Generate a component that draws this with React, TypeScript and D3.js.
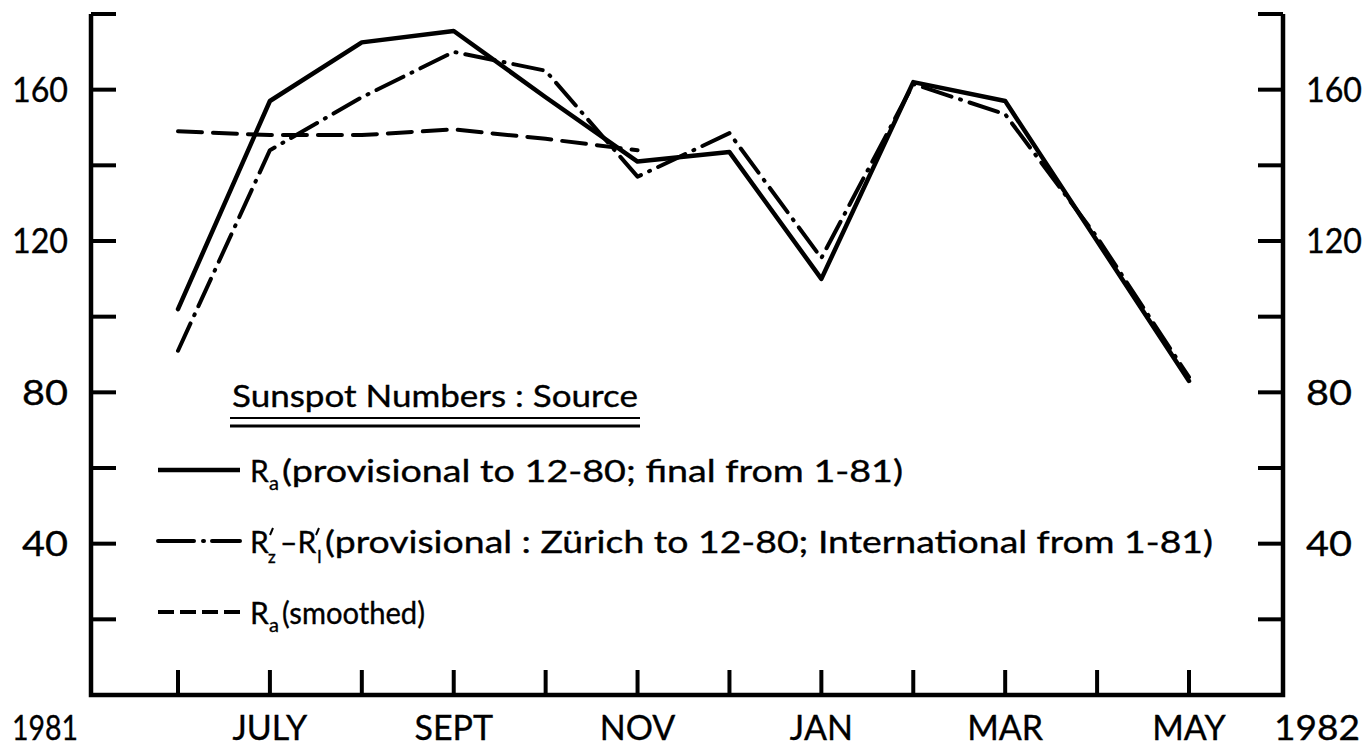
import React from "react";
import * as d3 from "d3";

const monthIndex = [1, 2, 3, 4, 5, 6, 7, 8, 9, 10, 11, 12];
const monthNames = ["JUNE", "JULY", "AUG", "SEPT", "OCT", "NOV", "DEC", "JAN", "FEB", "MAR", "APR", "MAY"];
const labeledMonths = ["JULY", "SEPT", "NOV", "JAN", "MAR", "MAY"];
const raFinal = [102, 157, 172.5, 175.5, 158, 141, 143.5, 110, 162, 157, 120, 83];
const rzRi = [91, 144, 158, 170, 165, 137, 148.5, 115.5, 161.5, 153.5, 121, 84];
const raSmoothed = [149, 148, 148, 149.5, 147, 144];
const yMajorTicks = [20, 40, 60, 80, 100, 120, 140, 160, 180];
const yLabels = [40, 80, 120, 160];
const yearLabels = ["1981", "1982"];

const W = 1367;
const H = 748;
const FONT = "Lato, 'Open Sans', sans-serif";

export default function App() {
  const left = 91;
  const right = 1283;
  const bottom = 695;
  const top = 14;
  const x = d3.scaleLinear().domain([1, 12]).range([178, 1189]);
  const y = d3.scaleLinear().domain([0, 180]).range([bottom, top]);
  const line = d3
    .line<[number, number]>()
    .x((d) => x(d[0]))
    .y((d) => y(d[1]));

  const raPts = monthIndex.map((m, i) => [m, raFinal[i]] as [number, number]);
  const rzPts = monthIndex.map((m, i) => [m, rzRi[i]] as [number, number]);
  const smPts = raSmoothed.map((v, i) => [monthIndex[i], v] as [number, number]);

  const sw = 4;
  const textStyle = { fontFamily: FONT, fill: "#000", stroke: "#000", strokeWidth: 0.35 } as const;
  const yLabLen = (t: number) => (t >= 100 ? 56 : 46);

  return (
    <svg width={W} height={H} style={{ position: "absolute", left: 0, top: 0, background: "#fff" }}>
      <rect width={W} height={H} fill="#fff" />
      {/* frame */}
      <path
        d={`M${left},${top} V${bottom} H${right} V${top}`}
        fill="none"
        stroke="#000"
        strokeWidth={4.5}
        strokeLinejoin="miter"
      />
      {/* y ticks */}
      {yMajorTicks.map((t) => (
        <g key={"yt" + t}>
          <line x1={left} x2={left + 25} y1={y(t)} y2={y(t)} stroke="#000" strokeWidth={4} />
          <line x1={right} x2={right - 25} y1={y(t)} y2={y(t)} stroke="#000" strokeWidth={4} />
        </g>
      ))}
      {/* x ticks */}
      {monthIndex.map((m) => (
        <line key={"xt" + m} x1={x(m)} x2={x(m)} y1={bottom} y2={bottom - 25} stroke="#000" strokeWidth={4} />
      ))}
      {/* y labels */}
      {yLabels.map((t) => (
        <g key={"yl" + t}>
          <text x={68 - yLabLen(t)} y={y(t)} dy="0.36em" fontSize={34} textLength={yLabLen(t)} lengthAdjust="spacingAndGlyphs" {...textStyle}>
            {t}
          </text>
          <text x={1306} y={y(t)} dy="0.36em" fontSize={34} textLength={yLabLen(t)} lengthAdjust="spacingAndGlyphs" {...textStyle}>
            {t}
          </text>
        </g>
      ))}
      {/* x labels */}
      {monthIndex.map((m, i) =>
        labeledMonths.includes(monthNames[i]) ? (
          <text key={"xl" + m} x={x(m)} y={740} textAnchor="middle" fontSize={34} {...textStyle}>
            {monthNames[i]}
          </text>
        ) : null
      )}
      <text x={12} y={740} fontSize={34} textLength={66} lengthAdjust="spacingAndGlyphs" {...textStyle}>{yearLabels[0]}</text>
      <text x={1274} y={740} fontSize={34} textLength={86} lengthAdjust="spacingAndGlyphs" {...textStyle}>{yearLabels[1]}</text>

      {/* data */}
      <path d={line(smPts) || ""} fill="none" stroke="#000" strokeWidth={sw} strokeDasharray="24,11" strokeLinecap="round" />
      <path d={line(rzPts) || ""} fill="none" stroke="#000" strokeWidth={sw} strokeDasharray="30,9,1,9" strokeLinecap="round" strokeLinejoin="round" />
      <path d={line(raPts) || ""} fill="none" stroke="#000" strokeWidth={sw + 0.5} strokeLinecap="round" strokeLinejoin="round" />

      {/* legend */}
      <text x={232} y={407} fontSize={30} textLength={406} lengthAdjust="spacingAndGlyphs" {...textStyle}>
        Sunspot Numbers : Source
      </text>
      <line x1={230} x2={640} y1={418} y2={418} stroke="#000" strokeWidth={2} />
      <line x1={230} x2={640} y1={426} y2={426} stroke="#000" strokeWidth={3} />

      <line x1={158} x2={240} y1={470} y2={470} stroke="#000" strokeWidth={4.5} />
      <text x={250} y={482} fontSize={30} {...textStyle}>R</text>
      <text x={269} y={490} fontSize={20} {...textStyle}>a</text>
      <text x={282} y={482} fontSize={30} textLength={621} lengthAdjust="spacingAndGlyphs" {...textStyle}>
        (provisional to 12-80; final from 1-81)
      </text>

      <path d="M158,541 H194 M203,541 h1 M212,541 H240" stroke="#000" strokeWidth={4} strokeLinecap="round" fill="none" />
      <text x={250} y={553} fontSize={30} {...textStyle}>R</text>
      <path d="M270,535 l3,-7" stroke="#000" strokeWidth={2} />
      <text x={268} y={563} fontSize={17} {...textStyle}>z</text>
      <text x={280} y={553} fontSize={30} {...textStyle}>–R</text>
      <path d="M316,535 l3,-7" stroke="#000" strokeWidth={2} />
      <text x={317} y={563} fontSize={17} {...textStyle}>I</text>
      <text x={325} y={553} fontSize={30} textLength={888} lengthAdjust="spacingAndGlyphs" {...textStyle}>
        (provisional : Zürich to 12-80; International from 1-81)
      </text>

      <line x1={158} x2={240} y1={612} y2={612} stroke="#000" strokeWidth={4} strokeDasharray="16,6" />
      <text x={250} y={624} fontSize={30} {...textStyle}>R</text>
      <text x={269} y={632} fontSize={20} {...textStyle}>a</text>
      <text x={282} y={624} fontSize={30} textLength={143} lengthAdjust="spacingAndGlyphs" {...textStyle}>
        (smoothed)
      </text>
    </svg>
  );
}
